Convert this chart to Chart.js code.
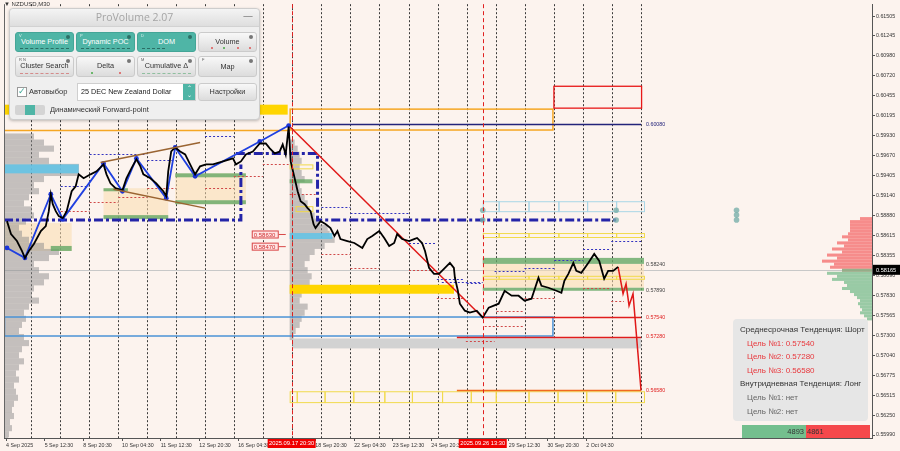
<!DOCTYPE html>
<html>
<head>
<meta charset="utf-8">
<script src="https://cdn.jsdelivr.net/npm/chart.js@4.4.1/dist/chart.umd.min.js"></script>
<style>
html, body { margin: 0; padding: 0; background: #fcf3ee; }
#wrap { position: relative; width: 900px; height: 451px; overflow: hidden; font-family: "Liberation Sans", Arial, sans-serif; }
#c { position: absolute; left: 0; top: 0; }
#sym { position: absolute; left: 4px; top: 1px; font-size: 6px; color: #333; }
#panel { position: absolute; left: 9px; top: 8px; width: 251px; height: 112px; background: #efefef; border: 1px solid #cdcdcd; border-radius: 4px; box-shadow: 0 1px 3px rgba(0,0,0,.25); box-sizing: border-box; }
.ttl { height: 17px; line-height: 17px; text-align: center; color: #a5a5a5; font-size: 10.5px; font-family: "Open Sans", sans-serif; background: linear-gradient(#f4f4f4, #dedede); border-bottom: 1px solid #d2d2d2; border-radius: 4px 4px 0 0; position: relative; }
.ttl .mn { position: absolute; right: 6px; top: -2px; color: #888; font-size: 10px; }
.b { position: absolute; height: 20px; width: 59px; border-radius: 3px; background: linear-gradient(#f8f8f8, #dcdcdc); border: 1px solid #cbcbcb; box-sizing: border-box; font-size: 7.3px; color: #333; text-align: center; line-height: 17px; }
.b.on { background: #4fb5a6; border-color: #44a597; color: #fff; }
.k { position: absolute; left: 3px; top: 1px; font-size: 4px; line-height: 4px; font-style: normal; opacity: .8; }
.g { position: absolute; right: 3px; top: 2px; width: 4px; height: 4px; border-radius: 50%; background: #777; }
.on .g { background: #2e6f66; }
.ln { position: absolute; left: 4px; right: 4px; bottom: 2px; border-top: 1px dashed #2c6e65; }
.ln.red { border-top-color: #d48a8a; }
.dt { position: absolute; left: 0; right: 0; bottom: 2px; height: 3px; }
.dt i { position: absolute; bottom: 0; width: 2px; height: 2px; border-radius: 50%; }
#chk { position: absolute; left: 7px; top: 78px; width: 8px; height: 8px; background: #fff; border: 1px solid #999; font-size: 9px; line-height: 7px; color: #3fa898; }
.lbl { position: absolute; font-size: 7.5px; color: #333; }
#sel { position: absolute; left: 67px; top: 74px; width: 119px; height: 18px; background: #fff; border: 1px solid #cfcfcf; box-sizing: border-box; font-size: 7.2px; line-height: 16px; padding-left: 3px; color: #222; }
#sel .ar { position: absolute; right: 0; top: 0; bottom: 0; width: 12px; background: #4fb5a6; color: #fff; font-size: 6px; line-height: 7px; text-align: center; padding-top: 1px; }
#tog { position: absolute; left: 5px; top: 96px; width: 30px; height: 10px; background: #d4d4d4; border-radius: 2px; }
#tog i { position: absolute; left: 10px; top: 0; width: 10px; height: 10px; background: #4fb5a6; }
#info { position: absolute; left: 733px; top: 319px; width: 135px; height: 102px; background: #e6e6e6; border-radius: 4px; font-size: 8px; }
#info div { position: absolute; white-space: nowrap; }
#vol { position: absolute; left: 742px; top: 425px; height: 13px; font-size: 7.5px; line-height: 13px; color: #333; }
#vol span { position: absolute; top: 0; height: 13px; }
</style>
</head>
<body>
<div id="wrap">
  <canvas id="c" width="900" height="451"></canvas>
  <div id="sym">&#9660; NZDUSD,M30</div>
  <div id="panel">
    <div class="ttl">ProVolume 2.07<span class="mn">&mdash;</span></div>
    <div class="b on" style="left:5px;top:23px"><i class="k">V</i><i class="g"></i>Volume Profile<s class="ln"></s></div>
    <div class="b on" style="left:66px;top:23px"><i class="k">P</i><i class="g"></i>Dynamic POC<s class="ln"></s></div>
    <div class="b on" style="left:127px;top:23px"><i class="k">D</i><i class="g"></i>DOM<s class="ln" style="right:30px"></s></div>
    <div class="b" style="left:188px;top:23px"><i class="g"></i>Volume<s class="dt"><i style="left:12px;background:#d55"></i><i style="left:24px;background:#4a4"></i><i style="left:38px;background:#d55"></i><i style="left:50px;background:#d55"></i></s></div>
    <div class="b" style="left:5px;top:47px;height:21px"><i class="k">R N</i><i class="g"></i>Cluster Search<s class="ln red"></s></div>
    <div class="b" style="left:66px;top:47px;height:21px"><i class="g"></i>Delta<s class="dt"><i style="left:14px;background:#4a4"></i><i style="left:42px;background:#d55"></i></s></div>
    <div class="b" style="left:127px;top:47px;height:21px"><i class="k">M</i><i class="g"></i>Cumulative &Delta;<s class="ln" style="border-top-color:#8fbf9f"></s></div>
    <div class="b" style="left:188px;top:47px;height:21px;line-height:19px"><i class="k">F</i><i class="g"></i>Map</div>
    <div id="chk">&#10003;</div>
    <div class="lbl" style="left:19px;top:78px">Автовыбор</div>
    <div id="sel">25 DEC New Zealand Dollar<span class="ar">&#8963;<br>&#8964;</span></div>
    <div class="b" style="left:188px;top:74px;height:18px;line-height:16px">Настройки</div>
    <div id="tog"><i></i></div>
    <div class="lbl" style="left:40px;top:96px">Динамический Forward-point</div>
  </div>
  <div id="info"></div>
  <div id="vol"></div>
</div>
<script>
// price path, M30 NZDUSD (x = trading days from the first grid line)
var barDay = [-0.858,-0.72,-0.515,-0.343,-0.24,-0.103,0.069,0.309,0.48,0.583,
  0.652,0.72,0.823,0.926,1.064,1.2,1.372,1.51,1.613,1.784,
  2.024,2.23,2.47,2.573,2.71,2.882,3.122,3.259,3.431,3.603,
  3.74,3.843,4.083,4.289,4.529,4.632,4.7,4.803,4.941,5.112,
  5.284,5.455,5.627,5.798,6.004,6.244,6.588,6.931,7.034,7.205,
  7.377,7.617,7.857,8.063,8.2,8.372,8.543,8.646,8.749,8.852,
  8.921,9.058,9.161,9.264,9.401,9.504,9.607,9.71,9.778,9.95,
  10.121,10.293,10.43,10.533,10.636,10.876,11.116,11.391,11.562,11.734,
  11.974,12.146,12.317,12.489,12.592,12.763,13.003,13.175,13.278,13.45,
  13.552,13.69,13.861,14.033,14.239,14.41,14.547,14.582,14.685,14.753,
  14.925,15.096,15.336,15.542,15.748,16.091,16.297,16.537,16.777,16.983,
  17.223,17.463,17.566,17.806,18.081,18.253,18.356,18.493,18.665,18.768,
  18.939,19.179,19.385,19.557,19.728,19.865,20.037,20.208];
var barPrice = [0.58806,0.58636,0.58544,0.58413,0.58322,0.58413,0.58505,0.58675,0.58741,0.58937,
  0.59160,0.59029,0.58937,0.58872,0.58846,0.58937,0.59199,0.59265,0.59422,0.59370,
  0.59422,0.59461,0.59553,0.59422,0.59304,0.59239,0.59212,0.59370,0.59501,0.59619,
  0.59527,0.59422,0.59370,0.59304,0.59199,0.59134,0.59461,0.59723,0.59776,0.59723,
  0.59684,0.59553,0.59422,0.59527,0.59553,0.59553,0.59592,0.59632,0.59553,0.59592,
  0.59684,0.59723,0.59828,0.59828,0.59763,0.59697,0.59723,0.59815,0.59684,0.60051,
  0.59592,0.59370,0.59199,0.59068,0.59029,0.58977,0.58937,0.58767,0.58715,0.58806,
  0.58767,0.58715,0.58610,0.58675,0.58570,0.58544,0.58518,0.58453,0.58570,0.58610,
  0.58675,0.58584,0.58479,0.58518,0.58636,0.58570,0.58544,0.58570,0.58584,0.58518,
  0.58413,0.58191,0.58112,0.58112,0.58191,0.58256,0.58191,0.58060,0.57889,0.57719,
  0.57627,0.57601,0.57627,0.57536,0.57667,0.57719,0.57889,0.57824,0.57824,0.57758,
  0.57785,0.58060,0.57955,0.57929,0.57889,0.57863,0.58020,0.58112,0.58256,0.58151,
  0.58125,0.58256,0.58374,0.58282,0.58047,0.58151,0.58151,0.58204];

// forecast zigzag (red)
var fcDay = [20.208, 20.379, 20.482, 20.585, 20.722, 20.997];
var fcPrice = [0.58204, 0.57850, 0.57981, 0.57693, 0.57850, 0.56580];

// zigzag swings (blue)
var zzDay = [-0.858, -0.24, 0.652, 1.064, 2.47, 3.122, 3.603, 4.632, 4.941, 5.627, 7.857, 8.852];
var zzPrice = [0.58453, 0.58322, 0.59160, 0.58832, 0.59566, 0.59199, 0.59632, 0.59108, 0.59776, 0.59396, 0.59854, 0.60064];

// trend line and the brown channel
var trendDay = [8.852, 15.542], trendPrice = [0.60064, 0.57536];
var chanUpDay = [2.367, 5.798], chanUpPrice = [0.59579, 0.59841];
var chanLoDay = [2.813, 5.97], chanLoPrice = [0.59225, 0.58977];

// axes
var yTicks = [0.61505,0.61245,0.60980,0.60720,0.60455,0.60195,0.59930,0.59670,0.59405,0.59140,0.58880,
  0.58615,0.58355,0.58090,0.57830,0.57565,0.57300,0.57040,0.56775,0.56515,0.56250,0.55990];
var timeTickDays = [-0.89, 0.44, 1.77, 3.11, 4.44, 5.77, 7.11, 8.44, 9.77, 11.11, 12.44, 13.77, 15.11, 16.44, 17.77, 19.11];
var timeLabels = ['4 Sep 2025', '5 Sep 12:30', '8 Sep 20:30', '10 Sep 04:30', '11 Sep 12:30', '12 Sep 20:30',
  '16 Sep 04:30', '17 Sep 12:30', '18 Sep 20:30', '22 Sep 04:30', '23 Sep 12:30', '24 Sep 20:30',
  '26 Sep 04:30', '29 Sep 12:30', '30 Sep 20:30', '2 Oct 04:30'];
var gridDays = [0,1,2,3,4,5,6,7,8,9,10,11,12,13,14,15,16,17,18,19,20,21];
var markerDays = [8.955, 15.542];
var markerLabels = ['2025.09.17 20:30', '2025.09.26 13:30'];

// zones [dayFrom, dayTo, priceTop, priceBottom]
var tanZones = [[-0.961, 1.372, 0.58780, 0.58413], [2.47, 4.70, 0.59239, 0.58846],
  [4.941, 7.377, 0.59435, 0.59029], [15.542, 21.1, 0.58243, 0.57929]];
var greenZones = [[0.652, 1.372, 0.58479, 0.58413], [2.47, 3.31, 0.59239, 0.59199], [2.47, 4.70, 0.58885, 0.58832],
  [4.941, 7.377, 0.59435, 0.59383], [4.941, 7.377, 0.59081, 0.59029], [8.886, 9.67, 0.59357, 0.59304],
  [15.542, 21.1, 0.58322, 0.58243], [15.542, 21.1, 0.57929, 0.57889]];
var goldZones = [[8.886, 14.55, 0.57968, 0.57850], [-0.961, 8.818, 0.60339, 0.60208]];
var greyZones = [[8.99, 21.0, 0.57261, 0.57130]];
var pocZones = [[-0.961, 1.613, 0.59553, 0.59435], [8.886, 10.36, 0.58649, 0.58570]];
var yellowFrames = [[8.886, 9.67, 0.59553, 0.59501], [9.09, 9.67, 0.59003, 0.58937]];

// cell rows [priceTop, priceBottom] with day cuts
var cellCutsRight = [15.542, 16.09, 17.12, 18.15, 19.14, 20.14, 21.1];
var cellCutsLow = [8.886, 9.13, 10.09, 11.08, 12.15, 13.1, 14.14, 15.13, 15.99, 17.12, 18.12, 19.11, 20.11, 21.1];
var blueCellRow = [0.59068, 0.58937];
var yellowCellRows = [[0.58649, 0.58597], [0.58086, 0.58047]];
var yellowCellLow = [0.56566, 0.56423];

// levels
var orangeLine = [-0.961, 8.886, 0.60012];
var orangeBox = [8.886, 17.944, 0.60287, 0.60012];
var redBox = [17.978, 21.0, 0.60588, 0.60300];
var navyLevel = [8.99, 21.0, 0.60080];
var blueBox = [-0.961, 17.944, 0.57550, 0.57300];
var targetLines = [[15.542, 21.0, 0.57540], [14.65, 21.0, 0.57280], [14.65, 21.0, 0.56580]];
var dashDotA = [[-0.961, 0.58820], [7.205, 0.58820], [7.205, 0.59553]];
var dashDotB = [[7.03, 0.59697], [9.847, 0.59697], [9.847, 0.58820], [20.14, 0.58820]];
var navyDots = [[1.99, 2.98, 0.59684], [2.98, 3.95, 0.59684], [3.98, 4.97, 0.59606], [5.97, 6.96, 0.59933],
  [0.995, 1.99, 0.59265], [9.98, 10.98, 0.58990], [10.98, 13.0, 0.58911], [13.0, 13.96, 0.58518],
  [13.96, 14.92, 0.58047], [14.99, 15.5, 0.57994], [15.95, 16.98, 0.58151], [16.98, 18.01, 0.58191],
  [18.01, 19.0, 0.58296], [19.0, 19.97, 0.58440], [19.97, 21.0, 0.58544], [14.13, 15.54, 0.58007]];
var redDots = [[1.99, 2.98, 0.59055], [0.995, 1.99, 0.58937], [2.98, 3.98, 0.59121], [5.97, 6.96, 0.59239],
  [6.96, 7.96, 0.59396], [7.96, 8.85, 0.59553], [3.98, 4.97, 0.59239], [9.98, 10.98, 0.58374],
  [10.98, 11.97, 0.58191], [13.0, 13.96, 0.58164], [13.96, 14.92, 0.57798], [8.89, 9.78, 0.59160],
  [15.61, 16.95, 0.57431], [16.02, 16.98, 0.57627], [16.98, 18.01, 0.57798], [19.0, 19.97, 0.57929],
  [19.97, 20.41, 0.57758], [14.96, 15.95, 0.57234]];
var tealDots = [[15.542, 0.58950], [15.542, 0.58820], [20.14, 0.58950], [20.14, 0.58820], [24.29, 0.58950], [24.29, 0.58885], [24.29, 0.58820]];
var levelLabels = [0.60080, 0.58240, 0.57890, 0.57540, 0.57280, 0.56580];
var levelKinds = ['navy', 'grey', 'grey', 'red', 'red', 'red'];
var levelLabelDay = 21.17;
var priceTags = [0.58630, 0.58470];
var priceTagDay = 8.51;
var lastPrice = 0.58165;

// volume profiles (top price, bin step, volumes)
var leftProfileTop = 0.5996, leftProfileStep = 0.0008;
var leftProfile = [60,80,100,70,90,150,150,80,60,70,50,40,56,60,44,30,36,50,80,110,90,60,70,90,80,60,56,70,50,40,
  44,36,30,40,50,36,30,40,30,24,30,20,24,28,20,16,20,12,16,10,8];
var midProfileTop = 0.5988, midProfileStep = 0.0008, midProfileDay = 8.886;
var midProfile = [10,16,20,24,20,24,30,20,24,30,36,40,50,60,76,80,90,70,50,40,30,36,44,40,30,24,20,36,30,24,20,12,8];
var sellProfileTop = 0.58859, buyProfileTop = 0.58179, rightProfileStep = 0.0004;
var sellProfile = [24,44,44,44,44,48,60,48,70,56,80,60,90,70,100,76,84,60];
var buyProfile = [60,90,70,80,56,50,60,44,36,30,24,28,24,20,24,16,10];

// trend panel
var midTrend = 'Шорт', midTargets = [0.57540, 0.57280, 0.56580];
var dayTrend = 'Лонг', dayTargets = ['нет', 'нет'];
var buyVol = 4893, sellVol = 4861;

function pts(xs, ys) { return xs.map(function (x, i) { return { x: x, y: ys[i] }; }); }

var drawings = {
  id: 'drawings',
  beforeDraw: function (c) {
    var ctx = c.ctx;
    ctx.save();
    ctx.fillStyle = '#fcf3ee';
    ctx.fillRect(0, 0, c.width, c.height);
    ctx.restore();
  },
  beforeDatasetsDraw: function (c) {
    var ctx = c.ctx, a = c.chartArea, sx = c.scales.x, sy = c.scales.y;
    var X = function (v) { return sx.getPixelForValue(v); };
    var Y = function (v) { return sy.getPixelForValue(v); };
    var volPx = 0.5;
    function box(z) { return [X(z[0]), Y(z[2]), X(z[1]) - X(z[0]), Y(z[3]) - Y(z[2])]; }
    function fill(zs, col) {
      ctx.fillStyle = col;
      zs.forEach(function (z) { var b = box(z); ctx.fillRect(b[0], b[1], b[2], b[3]); });
    }
    function frame(zs, col, w) {
      ctx.strokeStyle = col; ctx.lineWidth = w;
      zs.forEach(function (z) { var b = box(z); ctx.strokeRect(b[0] + 0.5, b[1] + 0.5, b[2], b[3]); });
    }
    function hline(d1, d2, p, col, w, dash) {
      ctx.strokeStyle = col; ctx.lineWidth = w; ctx.setLineDash(dash || []);
      var y = Math.round(Y(p)) + 0.5;
      ctx.beginPath(); ctx.moveTo(X(d1), y); ctx.lineTo(X(d2), y); ctx.stroke();
      ctx.setLineDash([]);
    }
    function path(ps, col, w, dash) {
      ctx.strokeStyle = col; ctx.lineWidth = w; ctx.setLineDash(dash);
      ctx.beginPath();
      ps.forEach(function (p, i) { if (i) ctx.lineTo(X(p[0]), Y(p[1])); else ctx.moveTo(X(p[0]), Y(p[1])); });
      ctx.stroke(); ctx.setLineDash([]);
    }
    function profile(top, step, vols, x0, dir, col) {
      ctx.fillStyle = col;
      vols.forEach(function (v, i) {
        var y1 = Y(top - i * step), y2 = Y(top - (i + 1) * step), w = v * volPx;
        ctx.fillRect(dir > 0 ? x0 : x0 - w, y1, w, y2 - y1);
      });
    }
    ctx.save();
    ctx.beginPath(); ctx.rect(a.left, a.top, a.right - a.left, a.bottom - a.top); ctx.clip();

    // current price line
    hline(-1, 30, lastPrice, '#c8c8c8', 1);

    fill(tanZones, 'rgba(250,220,175,0.55)');
    profile(leftProfileTop, leftProfileStep, leftProfile, a.left, 1, 'rgba(140,140,140,0.5)');
    profile(midProfileTop, midProfileStep, midProfile, X(midProfileDay), 1, 'rgba(140,140,140,0.5)');
    profile(sellProfileTop, rightProfileStep, sellProfile, a.right, -1, 'rgba(244,105,105,0.75)');
    profile(buyProfileTop, rightProfileStep, buyProfile, a.right, -1, 'rgba(120,188,140,0.75)');
    fill(greenZones, 'rgba(100,168,100,0.8)');
    fill(greyZones, '#d2d2d2');
    fill(goldZones, '#ffd500');
    fill(pocZones, 'rgba(95,195,232,0.85)');
    frame(yellowFrames, '#f0d84a', 1);

    // cell rows
    function cells(cuts, row, col) {
      var zs = [];
      for (var i = 0; i < cuts.length - 1; i++) zs.push([cuts[i], cuts[i + 1], row[0], row[1]]);
      frame(zs, col, 1);
    }
    cells(cellCutsRight, blueCellRow, '#a9d6e6');
    yellowCellRows.forEach(function (r) { cells(cellCutsRight, r, '#f1da4c'); });
    cells(cellCutsLow, yellowCellLow, '#f1da4c');

    // levels and boxes
    hline(orangeLine[0], orangeLine[1], orangeLine[2], '#f5a623', 1.5);
    frame([orangeBox], '#f5a623', 1.5);
    frame([redBox], '#e81818', 1.3);
    hline(navyLevel[0], navyLevel[1], navyLevel[2], '#23237a', 1.6);
    frame([blueBox], '#4b93d6', 1.5);
    hline(targetLines[0][0], targetLines[0][1], targetLines[0][2], '#e01c1c', 1.3);
    hline(targetLines[1][0], targetLines[1][1], targetLines[1][2], '#e01c1c', 1.3);
    hline(targetLines[2][0], targetLines[2][1], targetLines[2][2], '#f06a20', 1.3);
    path(dashDotA, '#2424a8', 3, [9, 3, 3, 3]);
    path(dashDotB, '#2424a8', 3, [9, 3, 3, 3]);
    navyDots.forEach(function (s) { hline(s[0], s[1], s[2], '#3333c0', 1, [2, 2]); });
    redDots.forEach(function (s) { hline(s[0], s[1], s[2], '#d04848', 1, [2, 2]); });
    ctx.restore();
  },
  afterDatasetsDraw: function (c) {
    var ctx = c.ctx, a = c.chartArea, sx = c.scales.x, sy = c.scales.y;
    var X = function (v) { return sx.getPixelForValue(v); };
    var Y = function (v) { return sy.getPixelForValue(v); };
    ctx.save();
    // frame line on the left
    ctx.strokeStyle = '#666'; ctx.lineWidth = 1;
    ctx.beginPath(); ctx.moveTo(a.left + 0.5, a.top); ctx.lineTo(a.left + 0.5, a.bottom); ctx.stroke();

    // teal anchors
    ctx.fillStyle = 'rgba(120,175,170,0.8)';
    tealDots.forEach(function (p) { ctx.beginPath(); ctx.arc(X(p[0]), Y(p[1]), 2.8, 0, Math.PI * 2); ctx.fill(); });

    // red dashed time markers
    ctx.strokeStyle = '#e02020'; ctx.lineWidth = 1; ctx.setLineDash([4, 3]);
    markerDays.forEach(function (d) {
      var x = Math.round(X(d)) + 0.5;
      ctx.beginPath(); ctx.moveTo(x, a.top); ctx.lineTo(x, a.bottom); ctx.stroke();
    });
    ctx.setLineDash([]);

    // level labels
    ctx.font = '5.3px "Liberation Sans"';
    ctx.textBaseline = 'middle'; ctx.textAlign = 'left';
    var kindColor = { navy: '#23237a', grey: '#444', red: '#e02020' };
    levelLabels.forEach(function (p, i) {
      ctx.fillStyle = kindColor[levelKinds[i]];
      ctx.fillText(p.toFixed(5), X(levelLabelDay), Y(p));
    });

    // price tags on the left of the drop
    priceTags.forEach(function (p) {
      var xr = X(priceTagDay), y = Y(p);
      ctx.fillStyle = 'rgba(255,225,225,0.9)';
      ctx.fillRect(xr - 27, y - 4, 27, 8);
      ctx.strokeStyle = '#d84848'; ctx.lineWidth = 1;
      ctx.strokeRect(xr - 26.5, y - 3.5, 26, 7);
      ctx.beginPath(); ctx.moveTo(xr, y); ctx.lineTo(xr + 7, y); ctx.stroke();
      ctx.fillStyle = '#d03030'; ctx.font = '6px "Liberation Sans"';
      ctx.fillText(p.toFixed(5), xr - 25, y + 0.5);
    });

    // last price tag on the axis
    var yl = Y(lastPrice);
    ctx.fillStyle = '#000';
    ctx.fillRect(a.right + 1, yl - 5, 27, 10);
    ctx.fillStyle = '#fff'; ctx.font = '5.6px "Liberation Sans"';
    ctx.fillText(lastPrice.toFixed(5), a.right + 4, yl + 0.5);

    // red time labels
    ctx.font = '5.8px "Liberation Sans"'; ctx.textAlign = 'center';
    markerDays.forEach(function (d, i) {
      var x = X(d);
      ctx.fillStyle = '#f00000';
      ctx.fillRect(x - 24, a.bottom + 1, 48, 9);
      ctx.fillStyle = '#fff';
      ctx.fillText(markerLabels[i], x, a.bottom + 5.8);
    });
    ctx.restore();
  }
};

new Chart(document.getElementById('c'), {
  type: 'line',
  data: {
    datasets: [
      { data: pts(chanUpDay, chanUpPrice), borderColor: '#9a6431', borderWidth: 1.5, pointRadius: 0 },
      { data: pts(chanLoDay, chanLoPrice), borderColor: '#9a6431', borderWidth: 1.5, pointRadius: 0 },
      { data: pts(barDay, barPrice), borderColor: '#000', borderWidth: 1.8, pointRadius: 0 },
      { data: pts(zzDay, zzPrice), borderColor: '#2040e0', borderWidth: 1.8, pointRadius: 2.4,
        pointBackgroundColor: '#1c34d8', pointBorderWidth: 0 },
      { data: pts(trendDay, trendPrice), borderColor: '#e01818', borderWidth: 1.5, pointRadius: 0 },
      { data: pts(fcDay, fcPrice), borderColor: '#e01818', borderWidth: 1.5, pointRadius: 0 }
    ]
  },
  options: {
    responsive: false,
    devicePixelRatio: 1,
    animation: false,
    events: [],
    layout: { padding: { top: 2, left: 0, right: 0, bottom: 0 } },
    plugins: { legend: { display: false }, tooltip: { enabled: false } },
    scales: {
      x: {
        type: 'linear', position: 'bottom', min: -0.961, max: 28.96,
        afterBuildTicks: function (s) { s.ticks = timeTickDays.map(function (v) { return { value: v }; }); },
        afterFit: function (s) { s.height = 13; },
        ticks: {
          autoSkip: false, maxRotation: 0, align: 'start', padding: 1, color: '#333',
          font: { family: 'Liberation Sans', size: 5.3 },
          callback: function (v, i) { return timeLabels[i]; }
        },
        grid: { drawOnChartArea: false, tickLength: 3, color: '#555' },
        border: { color: '#555' }
      },
      xg: {
        type: 'linear', position: 'bottom', min: -0.961, max: 28.96,
        afterBuildTicks: function (s) { s.ticks = gridDays.map(function (v) { return { value: v }; }); },
        afterFit: function (s) { s.height = 0; },
        ticks: { display: false },
        grid: { drawTicks: false, color: '#3a3a3a', lineWidth: 1 },
        border: { display: false, dash: [2, 2] }
      },
      y: {
        type: 'linear', position: 'right', min: 0.559506, max: 0.616622,
        afterBuildTicks: function (s) { s.ticks = yTicks.map(function (v) { return { value: v }; }); },
        afterFit: function (s) { s.width = 28; },
        ticks: {
          padding: 1, color: '#333', font: { family: 'Liberation Sans', size: 5.3 },
          callback: function (v) { return v.toFixed(5); }
        },
        grid: { drawOnChartArea: false, tickLength: 3, color: '#555' },
        border: { color: '#555' }
      }
    }
  },
  plugins: [drawings]
});

// trend panel text
var info = document.getElementById('info');
var lines = [
  ['Среднесрочная Тенденция: ' + midTrend, 7, '#333'],
  ['Цель №1: ' + midTargets[0].toFixed(5), 14, '#e8383d'],
  ['Цель №2: ' + midTargets[1].toFixed(5), 14, '#e8383d'],
  ['Цель №3: ' + midTargets[2].toFixed(5), 14, '#e8383d'],
  ['Внутридневная Тенденция: ' + dayTrend, 7, '#333'],
  ['Цель №1: ' + dayTargets[0], 14, '#666'],
  ['Цель №2: ' + dayTargets[1], 14, '#666']
];
lines.forEach(function (l, i) {
  var d = document.createElement('div');
  d.textContent = l[0];
  d.style.left = l[1] + 'px';
  d.style.top = (6 + i * 13.6) + 'px';
  d.style.color = l[2];
  info.appendChild(d);
});
var total = buyVol + sellVol;
var buyW = Math.round(128 * buyVol / total);
document.getElementById('vol').innerHTML =
  '<span style="left:0;width:' + buyW + 'px;background:#74bf8e;text-align:right;padding-right:2px;box-sizing:border-box">' + buyVol + '</span>' +
  '<span style="left:' + buyW + 'px;width:' + (128 - buyW) + 'px;background:#f5484b;padding-left:1px;box-sizing:border-box">' + sellVol + '</span>';
</script>
</body>
</html>
